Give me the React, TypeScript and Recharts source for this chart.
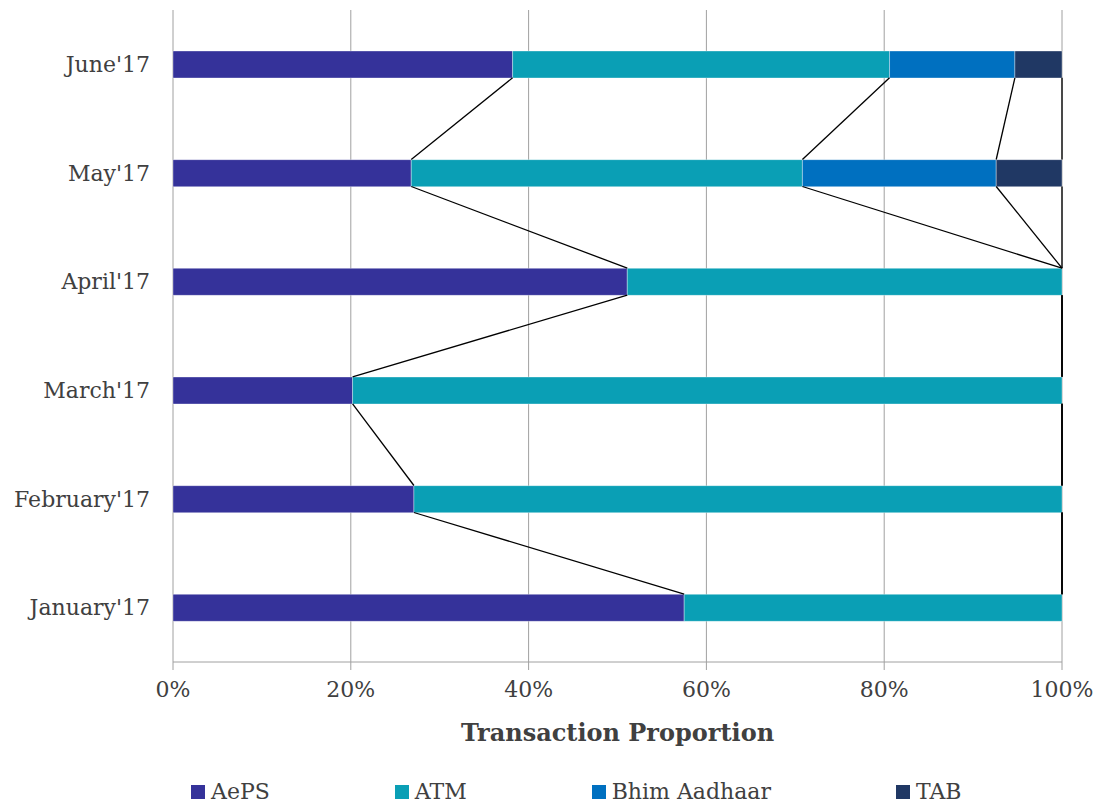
import {
  Bar,
  BarChart,
  CartesianGrid,
  Label,
  Legend,
  ReferenceLine,
  XAxis,
  YAxis,
} from "recharts";

const months = ["June'17", "May'17", "April'17", "March'17", "February'17", "January'17"];
const aeps = [38.2, 26.8, 51.1, 20.2, 27.1, 57.5];
const atm = [42.4, 44.0, 48.9, 79.8, 72.9, 42.5];
const bhim = [14.1, 21.8, 0, 0, 0, 0];
const tab = [5.3, 7.4, 0, 0, 0, 0];
const xTicks = [0, 20, 40, 60, 80, 100];

const series = [
  { key: "AePS", values: aeps, color: "#35329A" },
  { key: "ATM", values: atm, color: "#0A9FB5" },
  { key: "Bhim Aadhaar", values: bhim, color: "#0070C0" },
  { key: "TAB", values: tab, color: "#203864" },
];

const data = months.map((month, i) => {
  const row: Record<string, string | number> = { month };
  series.forEach((s) => (row[s.key] = s.values[i]));
  return row;
});

// series lines: join each segment end to the same segment end in the next row
const cumEnd = (i: number, k: number) =>
  series.slice(0, k + 1).reduce((acc, s) => acc + s.values[i], 0);

const connectors: { id: string; from: [number, string]; to: [number, string] }[] = [];
for (let i = 0; i < months.length - 1; i++) {
  series.forEach((s, k) => {
    connectors.push({
      id: `${s.key}-${i}`,
      from: [Math.min(cumEnd(i, k), 100), months[i]],
      to: [Math.min(cumEnd(i + 1, k), 100), months[i + 1]],
    });
  });
}

const FONT = "DejaVu Serif, Georgia, serif";
const TEXT = "#404040";
const GRID = "#A0A0A0";
const BAR = 27;

function LegendRow() {
  return (
    <div
      style={{
        display: "flex",
        alignItems: "center",
        paddingLeft: 191,
        paddingTop: 28,
        height: 52,
        boxSizing: "border-box",
        fontFamily: FONT,
        fontSize: 22,
        color: TEXT,
        whiteSpace: "nowrap",
      }}
    >
      {series.map((s) => (
        <div
          key={s.key}
          style={{ display: "flex", alignItems: "center", marginRight: 125, flexShrink: 0 }}
        >
          <span style={{ width: 14, height: 14, background: s.color, marginRight: 6 }} />
          <span style={{ lineHeight: "14px" }}>{s.key}</span>
        </div>
      ))}
    </div>
  );
}

export default function App() {
  return (
    <div style={{ position: "absolute", left: 0, top: 0, background: "#fff" }}>
      <BarChart
        width={1100}
        height={804}
        data={data}
        layout="vertical"
        margin={{ top: 10, right: 38, bottom: 0, left: 0 }}
      >
        <CartesianGrid vertical horizontal={false} stroke={GRID} />
        <XAxis
          type="number"
          domain={[0, 100]}
          ticks={xTicks}
          tickFormatter={(v) => `${v}%`}
          stroke={GRID}
          tickSize={8}
          tickMargin={11}
          height={90}
          tick={{ fontSize: 22, fill: TEXT, fontFamily: FONT }}
        >
          <Label
            value="Transaction Proportion"
            position="insideBottom"
            offset={11}
            style={{ fontSize: 24, fontWeight: "bold", fill: TEXT, fontFamily: FONT }}
          />
        </XAxis>
        <YAxis
          type="category"
          dataKey="month"
          width={173}
          axisLine={false}
          tickLine={false}
          tickSize={0}
          tickMargin={23}
          tick={{ fontSize: 22, fill: TEXT, fontFamily: FONT }}
        />
        <Legend
          verticalAlign="bottom"
          height={52}
          wrapperStyle={{ width: 1100, left: 0 }}
          content={() => <LegendRow />}
        />
        {series.map((s) => (
          <Bar
            key={s.key}
            dataKey={s.key}
            stackId="a"
            fill={s.color}
            barSize={BAR}
            stroke="#ffffff"
            strokeOpacity={0.35}
            isAnimationActive={false}
          />
        ))}
        {connectors.map((c) => (
          <ReferenceLine
            key={c.id}
            ifOverflow="visible"
            segment={[
              { x: c.from[0], y: c.from[1] },
              { x: c.to[0], y: c.to[1] },
            ]}
            shape={(p: any) => (
              <line
                x1={p.x1}
                y1={p.y1 + BAR / 2}
                x2={p.x2}
                y2={p.y2 - BAR / 2}
                stroke="#000"
                strokeWidth={1.3}
              />
            )}
          />
        ))}
      </BarChart>
    </div>
  );
}
